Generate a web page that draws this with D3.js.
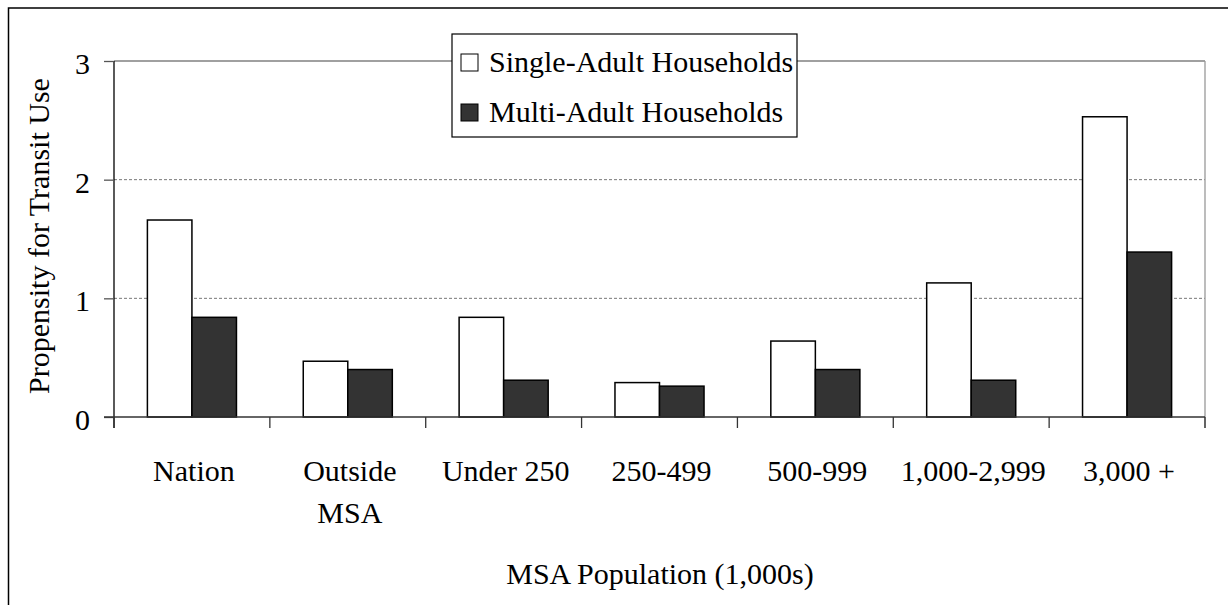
<!DOCTYPE html>
<html><head><meta charset="utf-8">
<script src="https://cdn.jsdelivr.net/npm/d3@7"></script>
<style>body{margin:0;background:#fff}svg{display:block}text{font-family:"Liberation Serif","Times New Roman",serif;fill:#000}</style>
</head><body><svg id="c" width="1228" height="605"></svg>
<script>
const categories = ["Nation", "Outside\nMSA", "Under 250", "250-499", "500-999", "1,000-2,999", "3,000 +"];
const singleAdult = [1.66, 0.47, 0.84, 0.29, 0.64, 1.13, 2.53];
const multiAdult = [0.84, 0.40, 0.31, 0.26, 0.40, 0.31, 1.39];
const seriesNames = ["Single-Adult Households", "Multi-Adult Households"];
const yTicks = [0, 1, 2, 3];
const yTitle = "Propensity for Transit Use";
const xTitle = "MSA Population (1,000s)";

const svg = d3.select("#c");
const fs = 30;
const L = 114, R = 1205, T = 61, B = 417;
const colors = ["#ffffff", "#333333"];

svg.append("rect").attr("x", 8.5).attr("y", 8).attr("width", 1240).attr("height", 620)
  .attr("fill", "#fff").attr("stroke", "#000").attr("stroke-width", 1.5);

const x = d3.scaleBand().domain(d3.range(categories.length)).range([L, R]).paddingInner(0).paddingOuter(0);
const x1 = d3.scaleBand().domain([0, 1]).range([0, x.bandwidth()]).paddingOuter(0.75).paddingInner(0);
const y = d3.scaleLinear().domain([0, 3]).range([B, T]);

// gridlines
svg.append("g").selectAll("line").data([1, 2]).join("line")
  .attr("x1", L).attr("x2", R).attr("y1", d => y(d)).attr("y2", d => y(d))
  .attr("stroke", "#777").attr("stroke-width", 1).attr("stroke-dasharray", "3,2");
// top & right plot border
svg.append("line").attr("x1", L).attr("x2", R).attr("y1", y(3)).attr("y2", y(3)).attr("stroke", "#808080").attr("stroke-width", 1.3);
svg.append("line").attr("x1", R).attr("x2", R).attr("y1", y(3)).attr("y2", B + 11).attr("stroke", "#999").attr("stroke-width", 1.3);

// bars
const data = categories.map((c, i) => [singleAdult[i], multiAdult[i]]);
const g = svg.append("g");
data.forEach((vals, i) => {
  vals.forEach((v, s) => {
    g.append("rect")
      .attr("x", x(i) + x1(s)).attr("width", x1.bandwidth())
      .attr("y", y(v)).attr("height", B - y(v))
      .attr("fill", colors[s]).attr("stroke", "#000").attr("stroke-width", 1.5);
  });
});

// y axis
const yAxis = d3.axisLeft(y).tickValues(yTicks).tickSize(10).tickPadding(14).tickFormat(d3.format("d"));
const ya = svg.append("g").attr("transform", `translate(${L},0)`).call(yAxis);
ya.select(".domain").attr("stroke", "#000").attr("stroke-width", 1.3).attr("d", `M0,${T}V${B + 11}`);
ya.selectAll(".tick line").attr("stroke", "#555").attr("stroke-width", 1.3);
ya.selectAll(".tick text").attr("font-size", fs).attr("fill", "#000").attr("dy", "0.42em");

// x axis baseline and ticks
svg.append("line").attr("x1", L - 10).attr("x2", R).attr("y1", B).attr("y2", B).attr("stroke", "#333").attr("stroke-width", 1.3);
svg.append("g").selectAll("line").data(d3.range(categories.length + 1)).join("line")
  .attr("x1", d => L + d * x.bandwidth()).attr("x2", d => L + d * x.bandwidth())
  .attr("y1", B).attr("y2", B + 11).attr("stroke", "#333").attr("stroke-width", 1.3);

// category labels
const cl = svg.append("g").selectAll("text").data(categories).join("text")
  .attr("text-anchor", "middle").attr("font-size", fs)
  .attr("transform", (d, i) => `translate(${x(i) + x.bandwidth() / 2 + 2},481)`);
cl.each(function(d) {
  const t = d3.select(this);
  d.split("\n").forEach((line, k) => t.append("tspan").attr("x", 0).attr("dy", k === 0 ? 0 : 42).text(line));
});

// axis titles
svg.append("text").attr("text-anchor", "middle").attr("font-size", fs)
  .attr("transform", `translate(49,236) rotate(-90)`).text(yTitle);
svg.append("text").attr("text-anchor", "middle").attr("font-size", fs)
  .attr("x", 660).attr("y", 584).text(xTitle);

// legend
const lg = svg.append("g");
lg.append("rect").attr("x", 452).attr("y", 34).attr("width", 345).attr("height", 103)
  .attr("fill", "#fff").attr("stroke", "#000").attr("stroke-width", 1.2);
seriesNames.forEach((n, i) => {
  const base = 72 + i * 50;
  lg.append("rect").attr("x", 461).attr("y", base - 18).attr("width", 17).attr("height", 17)
    .attr("fill", colors[i]).attr("stroke", "#000").attr("stroke-width", 1);
  lg.append("text").attr("x", 489).attr("y", base).attr("font-size", fs).text(n);
});
</script></body></html>
